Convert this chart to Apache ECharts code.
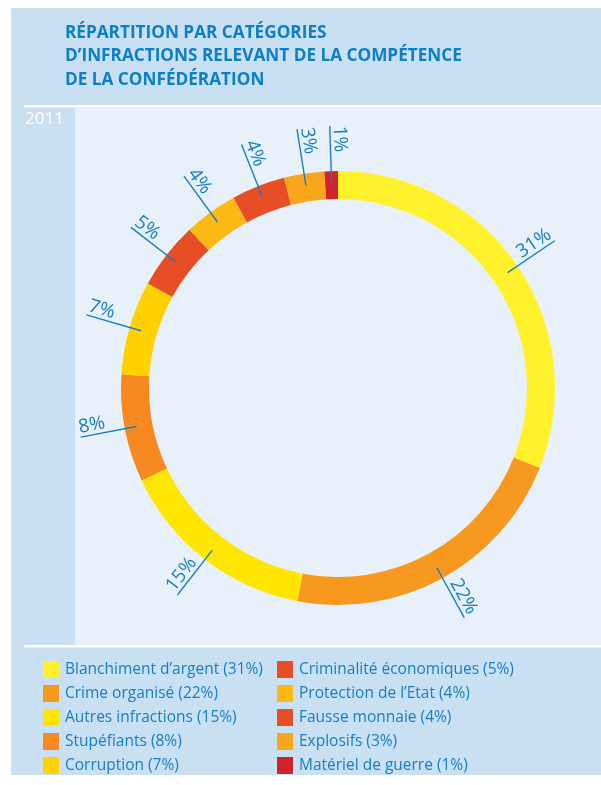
<!DOCTYPE html>
<html>
<head>
<meta charset="utf-8">
<script src="https://cdn.jsdelivr.net/npm/echarts@6/dist/echarts.min.js"></script>
<style>
html,body{margin:0;padding:0;background:#fff;}
#chart{width:601px;height:785px;}
</style>
</head>
<body>
<div id="chart"></div>
<script>
// ---- data ----
const categories = [
  "Blanchiment d\u2019argent", "Crime organisé", "Autres infractions", "Stupéfiants", "Corruption",
  "Criminalité économiques", "Protection de l\u2019Etat", "Fausse monnaie", "Explosifs", "Matériel de guerre"
];
const values = [31, 22, 15, 8, 7, 5, 4, 4, 3, 1];
const colors = [
  "#FFF22D", "#F7981F", "#FFE600", "#F6891F", "#FFD100",
  "#E84E25", "#FDB913", "#E84E25", "#F9A61C", "#D0232B"
];
const yearLabel = "2011";
const titleText = "RÉPARTITION PAR CATÉGORIES\nD\u2019INFRACTIONS RELEVANT DE LA COMPÉTENCE\nDE LA CONFÉDÉRATION";

const BLUE = "#1680c6";
const FONT = "Open Sans";
const CENTER = [338, 388];

const total = values.reduce((a, b) => a + b, 0);
let acc = 0;
const labelData = values.map(v => { const mid = acc + v / 2; acc += v; return [mid, v]; });

const chart = echarts.init(document.getElementById('chart'), null, {renderer: 'canvas'});
chart.setOption({
  animation: false,
  backgroundColor: '#ffffff',
  graphic: [
    {type: 'rect', z: -10, shape: {x: 11, y: 8, width: 590, height: 767}, style: {fill: '#c9dff2'}},
    {type: 'rect', z: -9, shape: {x: 75, y: 108, width: 526, height: 537}, style: {fill: '#e8f1f9'}},
    {type: 'rect', z: -8, shape: {x: 24, y: 105, width: 577, height: 2.5}, style: {fill: '#ffffff'}},
    {type: 'rect', z: -8, shape: {x: 24, y: 645, width: 577, height: 2.5}, style: {fill: '#ffffff'}},
    {type: 'text', z: 5, x: 25, y: 111, style: {text: yearLabel, fill: '#ffffff', font: '17px "' + FONT + '"'}}
  ],
  title: {
    text: titleText,
    left: 65, top: 21, padding: 0,
    textStyle: {color: '#0b7fc7', fontFamily: FONT, fontWeight: 'bold', fontSize: 17.2, lineHeight: 23.5}
  },
  legend: [
    {
      data: categories.slice(0, 5), orient: 'vertical', left: 43, top: 661, padding: 0,
      itemWidth: 16, itemHeight: 17, itemGap: 7, icon: 'rect', selectedMode: false,
      formatter: n => n + ' (' + values[categories.indexOf(n)] + '%)',
      textStyle: {color: BLUE, fontFamily: FONT, fontSize: 15.5, padding: [0, 0, 0, 1]}
    },
    {
      data: categories.slice(5), orient: 'vertical', left: 277, top: 661, padding: 0,
      itemWidth: 16, itemHeight: 17, itemGap: 7, icon: 'rect', selectedMode: false,
      formatter: n => n + ' (' + values[categories.indexOf(n)] + '%)',
      textStyle: {color: BLUE, fontFamily: FONT, fontSize: 15.5, padding: [0, 0, 0, 1]}
    }
  ],
  polar: {center: CENTER, radius: 262},
  angleAxis: {type: 'value', min: 0, max: total, startAngle: 90, clockwise: true, show: false},
  radiusAxis: {type: 'value', min: 0, max: 1, show: false},
  series: [
    {
      type: 'pie', center: CENTER, radius: [189, 217], startAngle: 90, clockwise: true,
      label: {show: false}, labelLine: {show: false}, emphasis: {disabled: true},
      itemStyle: {borderWidth: 0},
      data: categories.map((c, i) => ({name: c, value: values[i], itemStyle: {color: colors[i]}}))
    },
    {
      type: 'custom', coordinateSystem: 'polar', z: 10, silent: true,
      data: labelData,
      renderItem: function (params, api) {
        const mid = api.value(0), v = api.value(1);
        const p0 = api.coord([0.783, mid]);
        const p1 = api.coord([1.0, mid]);
        const dx = p1[0] - p0[0], dy = p1[1] - p0[1];
        const th = Math.atan2(dy, dx);
        const right = dx >= 0;
        const rot = right ? -th : -th + Math.PI;
        return {
          type: 'group',
          children: [
            {type: 'line', shape: {x1: p0[0], y1: p0[1], x2: p1[0], y2: p1[1]}, style: {stroke: BLUE, lineWidth: 1.4}},
            {type: 'text', x: p1[0], y: p1[1], rotation: rot,
             style: {text: v + '%', x: 0, y: 0, align: right ? 'right' : 'left', verticalAlign: 'bottom',
                     fill: BLUE, font: '19px "' + FONT + '"'}}
          ]
        };
      }
    }
  ]
});
</script>
</body>
</html>
